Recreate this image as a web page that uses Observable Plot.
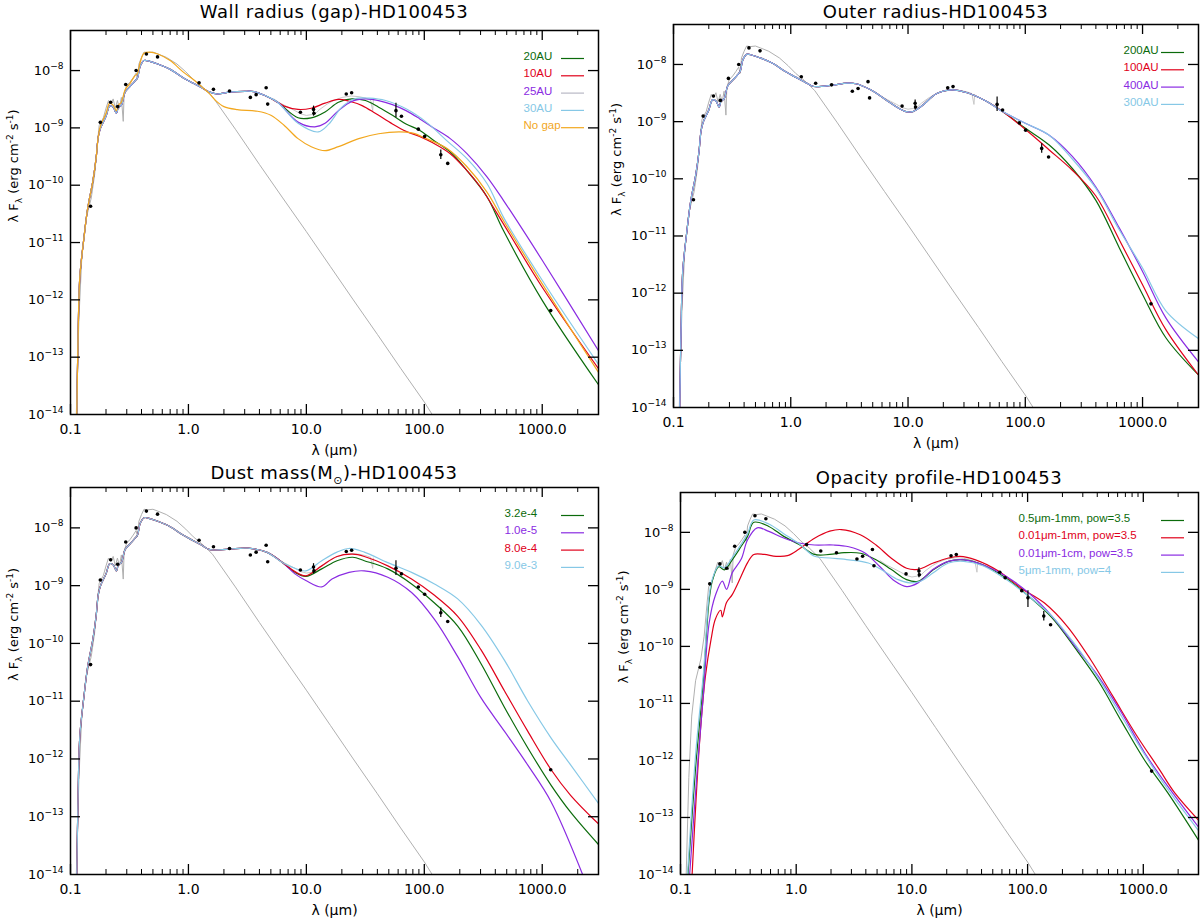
<!DOCTYPE html>
<html>
<head>
<meta charset="utf-8">
<script src="https://cdn.jsdelivr.net/npm/d3@7"></script>
<script src="https://cdn.jsdelivr.net/npm/@observablehq/plot@0.6"></script>
<style>
  body { margin: 0; background: #fff; font-family: "DejaVu Sans", sans-serif; }
  #page { position: relative; width: 1200px; height: 919px; overflow: hidden; }
  .cell { position: absolute; width: 600px; height: 460px; }
  .title { position: absolute; font-size: 18px; letter-spacing: 0.5px; line-height: 22px; white-space: nowrap; transform: translateX(-50%); color: #000; }
  .title sub { font-size: 11px; line-height: 0; }
</style>
</head>
<body>
<div id="page"></div>
<script>
// SED of HD100453, four model grids. values: [lambda (um), lambda F_lambda]

const GRAY = "#b0b0b0", GREEN = "#0b6b0b", RED = "#e0001a", PURPLE = "#8a2be2", LBLUE = "#86c8e6", ORANGE = "#f2a71e";

// photometry (black dots) and error bars [lambda, low, high]
const photometry = [[0.148,4.3e-11],[0.179,1.25e-9],[0.219,2.8e-9],[0.251,2.35e-9],[0.294,5.7e-9],[0.36,1.0e-8],[0.44,1.95e-8],[0.547,1.73e-8],[1.23,6.1e-9],[1.63,4.7e-9],[2.23,4.4e-9],[3.35,3.4e-9],[3.75,3.8e-9],[4.56,5.0e-9],[4.7,2.6e-9],[8.9,1.87e-9],[11.5,2.1e-9],[11.6,1.8e-9],[21.8,3.9e-9],[24.2,4.1e-9],[57.5,2.0e-9],[64,1.6e-9],[89,9.5e-10],[100.7,7.1e-10],[138,3.4e-10],[158,2.4e-10],[1180,6.5e-13]];
const errBars = [[11.5,1.6e-9,2.4e-9],[57.5,1.5e-9,2.7e-9],[138,2.8e-10,4.1e-10]];
const errBarsOpacity = [[11.5,1.6e-9,2.4e-9],[100.7,4.8e-10,9.5e-10],[138,2.8e-10,4.1e-10]];

// stellar photosphere (gray) and IRS spectrum (light gray)
const photosphere = [[0.112,1e-14],[0.118,5e-13],[0.125,6e-12],[0.135,2.5e-11],[0.15,6e-11],[0.16,1.5e-10],[0.17,6e-10],[0.175,1.1e-9],[0.19,1.5e-9],[0.2,2.2e-9],[0.21,3.0e-9],[0.22,2.6e-9],[0.23,3.2e-9],[0.24,2.2e-9],[0.25,3.0e-9],[0.26,2.2e-9],[0.27,3.4e-9],[0.28,1.3e-9],[0.285,4.0e-9],[0.3,5.5e-9],[0.32,6.3e-9],[0.34,7.5e-9],[0.36,9e-9],[0.37,7e-9],[0.38,1.3e-8],[0.4,1.7e-8],[0.42,2.1e-8],[0.45,2.05e-8],[0.5,2.1e-8],[0.55,1.95e-8],[0.65,1.7e-8],[0.8,1.3e-8],[0.95,9.5e-9],[1.1,7e-9],[1.3,5.3e-9],[1.6,3.5e-9],[2.5,9.5e-10],[4,2.3e-10],[6.3,6e-11],[10,1.55e-11],[16,3.8e-12],[25,1.0e-12],[40,2.5e-13],[63,6.4e-14],[100,1.65e-14],[125,8e-15]];
const irsSpectrum = [[5.3,3.2e-9],[6,2.7e-9],[7,2.3e-9],[8,2.0e-9],[9,1.75e-9],[10,1.65e-9],[11,1.7e-9],[12,1.8e-9],[13,2.1e-9],[15,2.6e-9],[17,3.0e-9],[20,3.4e-9],[24,3.6e-9],[28,3.5e-9],[32,3.3e-9],[35,3.1e-9],[36.5,2.0e-9],[37,3.0e-9]];

// model short-wavelength part shared by panels 1-3
const modelUV = [[0.113,1e-14],[0.116,2.3e-13],[0.12,2.5e-12],[0.13,1.2e-11],[0.14,4e-11],[0.155,1.2e-10],[0.165,3e-10],[0.172,7e-10],[0.18,1.0e-9],[0.2,1.6e-9],[0.215,2.4e-9],[0.23,2.3e-9],[0.245,1.8e-9],[0.255,2.3e-9],[0.27,2.5e-9],[0.29,4.2e-9],[0.32,5.3e-9],[0.35,6.5e-9],[0.37,7.5e-9],[0.39,1.2e-8],[0.42,1.5e-8],[0.47,1.45e-8],[0.55,1.3e-8],[0.7,1.05e-8],[0.9,7.5e-9],[1.1,6e-9],[1.3,5e-9]];

// panel 1: wall radius
const wallMid = [[1.52,4.2e-9],[1.75,3.9e-9],[2.3,4.25e-9],[3.0,4.35e-9],[3.6,4.3e-9],[4.4,3.7e-9],[5.7,2.8e-9]];
const wall20 = [[8.5,1.5e-9],[11,1.5e-9],[14.4,1.9e-9],[18.7,2.8e-9],[24.3,3.2e-9],[31.7,3.0e-9],[41,2.3e-9],[53.7,1.66e-9],[70,1.17e-9],[91,9.1e-10],[118,6.2e-10],[166,3.8e-10],[230,1.8e-10],[340,6.3e-11],[470,1.6e-11],[1000,9.8e-13],[3000,3.3e-14]];
const wall10 = [[6.5,2.4e-9],[8.5,2.1e-9],[11,2.2e-9],[14.4,2.7e-9],[18.7,3.15e-9],[22.8,2.95e-9],[29.7,2.45e-9],[38.7,1.78e-9],[53.7,1.17e-9],[70,8.7e-10],[91,7.1e-10],[118,5.5e-10],[166,3.55e-10],[230,1.8e-10],[299,9.3e-11],[470,2.1e-11],[1000,1.66e-12],[3000,6.3e-14]];
const wall25 = [[8.5,1.26e-9],[11.8,1.04e-9],[14.4,1.2e-9],[18.7,2.0e-9],[24.3,2.9e-9],[31.7,3.2e-9],[41,3.0e-9],[53.7,2.55e-9],[70,2.0e-9],[91,1.45e-9],[118,1.02e-9],[166,6.5e-10],[230,3.55e-10],[340,1.4e-10],[470,5.4e-11],[1000,4.9e-12],[3000,1.3e-13]];
const wall30 = [[8.5,1.2e-9],[12.6,8.5e-10],[15.4,1.15e-9],[20,2.3e-9],[26,3.25e-9],[34,3.3e-9],[47,3.0e-9],[70,2.15e-9],[104,1.26e-9],[155,6.0e-10],[230,2.9e-10],[340,1.07e-10],[470,2.75e-11],[1000,2.2e-12],[3000,7.5e-14]];
const noGap = [[0.113,1e-14],[0.116,2.3e-13],[0.12,2.5e-12],[0.13,1.2e-11],[0.14,4e-11],[0.155,1.2e-10],[0.165,3e-10],[0.172,7e-10],[0.18,1.1e-9],[0.2,1.8e-9],[0.215,2.7e-9],[0.23,2.5e-9],[0.245,2.0e-9],[0.255,2.5e-9],[0.27,2.8e-9],[0.29,4.6e-9],[0.32,6e-9],[0.35,8e-9],[0.37,9e-9],[0.39,1.4e-8],[0.42,2.0e-8],[0.47,2.1e-8],[0.55,1.95e-8],[0.7,1.5e-8],[0.9,9.5e-9],[1.1,7e-9],[1.3,5.2e-9],[1.5,4.0e-9],[1.7,3.0e-9],[2.0,2.35e-9],[2.6,2.08e-9],[3.85,1.95e-9],[5.0,1.66e-9],[6.5,1.1e-9],[8.5,6.5e-10],[11,4.7e-10],[14.4,4.0e-10],[18.7,4.7e-10],[27.8,6.5e-10],[41,7.9e-10],[61,8.5e-10],[80,8.1e-10],[104,6.5e-10],[155,4.4e-10],[230,2.1e-10],[340,7.6e-11],[470,2.4e-11],[1000,1.9e-12],[3000,5.4e-14]];

// panel 2: outer radius
const outerMid = [[1.52,4.2e-9],[1.65,4.1e-9],[2.2,4.3e-9],[3.04,4.7e-9],[3.6,4.6e-9],[4.8,3.6e-9],[6.5,2.4e-9],[8,1.8e-9],[9.6,1.5e-9],[11,1.5e-9],[13,1.85e-9],[17.6,3.1e-9],[23.8,3.6e-9],[32,3.2e-9],[47,2.25e-9],[64,1.5e-9]];
const outer200 = [[101,7.6e-10],[160,3.9e-10],[253,1.5e-10],[400,4.2e-11],[631,6.3e-12],[1000,9.5e-13],[1580,1.66e-13],[3000,3.7e-14]];
const outer100 = [[101,7.2e-10],[160,3.2e-10],[253,1.4e-10],[400,5.0e-11],[631,8.7e-12],[1000,1.4e-12],[1580,2.3e-13],[3000,3.7e-14]];
const outer400 = [[101,9.3e-10],[160,5.8e-10],[253,2.45e-10],[400,7.2e-11],[631,1.4e-11],[1000,2.4e-12],[1580,3.7e-13],[3000,6.3e-14]];
const outer300 = [[101,9.3e-10],[160,5.8e-10],[253,2.2e-10],[400,6.8e-11],[631,1.3e-11],[1000,2.75e-12],[1580,4.9e-13],[3000,1.6e-13]];

// panel 3: dust mass
const massMid = [[1.52,4.2e-9],[2.2,4.3e-9],[3.2,4.45e-9],[4.6,3.8e-9],[6.3,2.5e-9]];
const mass32e4 = [[8,1.7e-9],[9.9,1.45e-9],[13.5,1.95e-9],[18.2,2.7e-9],[24.7,3.1e-9],[31,2.7e-9],[49,1.95e-9],[78,1.07e-9],[122,5.0e-10],[192,2.0e-10],[302,4.5e-11],[479,7.8e-12],[755,1.55e-12],[1190,3.5e-13],[1740,1.2e-13],[3000,3.3e-14]];
const mass10e5 = [[8,1.6e-9],[9.9,1.23e-9],[13.5,9.5e-10],[16.5,1.3e-9],[23,1.7e-9],[31,1.8e-9],[49,1.4e-9],[78,7.6e-10],[122,2.6e-10],[192,5.9e-11],[302,1.15e-11],[479,3.0e-12],[755,7.8e-13],[1190,1.8e-13],[2200,1e-14]];
const mass80e4 = [[8,1.75e-9],[9.9,1.48e-9],[13.5,2.2e-9],[18.2,3.2e-9],[24.7,3.5e-9],[31,3.2e-9],[49,2.2e-9],[78,1.3e-9],[122,6.8e-10],[192,2.95e-10],[302,7.8e-11],[479,1.5e-11],[755,3.0e-12],[1190,6.5e-13],[1740,2.35e-13],[3000,7.5e-14]];
const mass90e3 = [[8,2.0e-9],[9.9,1.8e-9],[13.5,2.7e-9],[18.2,3.8e-9],[23,4.4e-9],[31,3.8e-9],[49,2.5e-9],[78,1.7e-9],[122,1.07e-9],[192,5.9e-10],[302,2.1e-10],[479,5.1e-11],[755,1.0e-11],[1190,2.3e-12],[1740,7.9e-13],[3000,1.7e-13]];

// panel 4: opacity profile
const opac05 = [[0.116,1e-14],[0.136,9e-13],[0.158,2.7e-11],[0.177,6.6e-10],[0.19,1.5e-9],[0.214,2.5e-9],[0.24,2.2e-9],[0.28,3.3e-9],[0.335,5.7e-9],[0.38,8.5e-9],[0.43,1.5e-8],[0.58,1.27e-8],[0.78,8.5e-9],[1.06,6.1e-9],[1.44,4.1e-9],[1.95,4.1e-9],[2.6,4.4e-9],[3.6,4.3e-9],[4.9,3.3e-9],[6.6,2.25e-9],[9,1.48e-9],[11.3,1.38e-9],[15.3,2.2e-9],[20.7,3.1e-9],[28,3.3e-9],[41,2.7e-9],[65,1.58e-9],[102,7.6e-10],[162,3.2e-10],[258,9.3e-11],[410,2.45e-11],[650,4.8e-12],[1030,1.0e-12],[1630,2.7e-13],[3000,4.0e-14]];
const opac001mm = [[0.126,1e-14],[0.146,2e-12],[0.164,2.95e-11],[0.184,1.35e-10],[0.2,3.0e-10],[0.223,4.3e-10],[0.23,3.3e-10],[0.25,5.9e-10],[0.28,8.1e-10],[0.325,1.5e-9],[0.38,2.95e-9],[0.43,4.1e-9],[0.53,4.1e-9],[0.67,3.8e-9],[0.84,3.9e-9],[1.06,5.1e-9],[1.44,7.9e-9],[1.95,1.05e-8],[2.45,1.12e-8],[3.58,9.1e-9],[4.9,6.0e-9],[6.6,3.55e-9],[9,2.35e-9],[11.3,2.25e-9],[15.3,2.9e-9],[20.7,3.55e-9],[26,3.8e-9],[35.5,3.3e-9],[56,2.1e-9],[88,1.05e-9],[140,5.75e-10],[220,2.25e-10],[350,5.9e-11],[550,1.3e-11],[870,2.8e-12],[1380,6.9e-13],[1870,2.7e-13],[3000,9.0e-14]];
const opac001cm = [[0.12,1e-14],[0.141,9e-13],[0.158,1.5e-11],[0.177,2.6e-10],[0.2,7.8e-10],[0.23,1.4e-9],[0.25,1.0e-9],[0.28,1.95e-9],[0.335,3.4e-9],[0.38,7.4e-9],[0.46,1.2e-8],[0.58,1.04e-8],[0.78,7.95e-9],[1.06,6.5e-9],[1.44,6.0e-9],[2.1,6.0e-9],[2.85,5.6e-9],[3.9,4.4e-9],[5.3,2.5e-9],[7.1,1.4e-9],[9,1.12e-9],[11.3,1.3e-9],[15.3,2.25e-9],[20.7,3.1e-9],[28,3.3e-9],[41,2.7e-9],[65,1.7e-9],[102,8.7e-10],[162,3.4e-10],[258,1.0e-10],[410,2.95e-11],[650,6.8e-12],[1030,1.35e-12],[1630,3.5e-13],[3000,6.8e-14]];
const opac5um = [[0.115,1e-14],[0.136,1.5e-12],[0.158,3.5e-11],[0.177,8e-10],[0.19,1.6e-9],[0.214,2.6e-9],[0.24,2.4e-9],[0.28,3.6e-9],[0.335,6.2e-9],[0.38,9.5e-9],[0.43,1.65e-8],[0.58,1.4e-8],[0.78,9.5e-9],[1.06,6.3e-9],[1.44,3.8e-9],[1.95,3.55e-9],[2.85,3.3e-9],[4.2,2.9e-9],[5.7,2.1e-9],[7.6,1.48e-9],[9.6,1.3e-9],[12,1.4e-9],[15.3,1.95e-9],[20.7,2.9e-9],[28,3.1e-9],[41,2.6e-9],[65,1.5e-9],[102,7.6e-10],[162,3.4e-10],[258,1.07e-10],[410,2.75e-11],[650,5.9e-12],[1030,1.26e-12],[1630,3.1e-13],[3000,5.9e-14]];

// axes
const xDomain = [0.1, 3000];
const yDomain = [1e-14, 5e-8];
const xMajor = [0.1, 1, 10, 100, 1000];
const xMinor = [0.2,0.3,0.4,0.5,0.6,0.7,0.8,0.9,2,3,4,5,6,7,8,9,20,30,40,50,60,70,80,90,200,300,400,500,600,700,800,900,2000];
const yMajor = [1e-13, 1e-12, 1e-11, 1e-10, 1e-9, 1e-8];
const yTickValues = [1e-14, 1e-13, 1e-12, 1e-11, 1e-10, 1e-9, 1e-8];
const X_LABEL = "λ (μm)";
const Y_LABEL = "λ Fλ (erg cm⁻² s⁻¹)";

const SUP = {"-":"⁻","0":"⁰","1":"¹","2":"²","3":"³","4":"⁴","5":"⁵","6":"⁶","7":"⁷","8":"⁸","9":"⁹"};
const fmtY = d => "10" + String(Math.round(Math.log10(d))).split("").map(c => SUP[c]).join("");
const fmtX = d => d.toFixed(1);

const panels = [
  {left: 0, top: 0, mL: 70, mT: 30, mB: 46, titleY: 1, errs: errBars,
   title: "Wall radius (gap)-HD100453", legDx: 75,
   curves: [
     {data: modelUV.concat(wallMid, wall20), color: GREEN},
     {data: modelUV.concat(wallMid, wall10), color: RED},
     {data: modelUV.concat(wallMid, wall25), color: PURPLE},
     {data: modelUV.concat(wallMid, wall30), color: LBLUE},
     {data: noGap, color: ORANGE}],
   legend: [
     {label: "20AU", color: GREEN}, {label: "10AU", color: RED},
     {label: "25AU", color: PURPLE, line: "#b8b8c4"}, {label: "30AU", color: LBLUE},
     {label: "No gap", color: ORANGE}]},
  {left: 600, top: 0, mL: 73, mT: 24, mB: 53, titleY: 1, errs: errBars,
   title: "Outer radius-HD100453", legDx: 75,
   curves: [
     {data: modelUV.concat(outerMid, outer200), color: GREEN},
     {data: modelUV.concat(outerMid, outer100), color: RED},
     {data: modelUV.concat(outerMid, outer400), color: PURPLE},
     {data: modelUV.concat(outerMid, outer300), color: LBLUE}],
   legend: [
     {label: "200AU", color: GREEN}, {label: "100AU", color: RED},
     {label: "400AU", color: PURPLE}, {label: "300AU", color: LBLUE}]},
  {left: 0, top: 460, mL: 70, mT: 27, mB: 46, titleY: 2, errs: errBars,
   title: "Dust mass(M<sub>⊙</sub>)-HD100453", legDx: 94,
   curves: [
     {data: modelUV.concat(massMid, mass32e4), color: GREEN},
     {data: modelUV.concat(massMid, mass10e5), color: PURPLE},
     {data: modelUV.concat(massMid, mass80e4), color: RED},
     {data: modelUV.concat(massMid, mass90e3), color: LBLUE}],
   legend: [
     {label: "3.2e-4", color: GREEN}, {label: "1.0e-5", color: PURPLE},
     {label: "8.0e-4", color: RED}, {label: "9.0e-3", color: LBLUE}]},
  {left: 600, top: 460, mL: 80, mT: 32, mB: 46, titleY: 7, errs: errBarsOpacity,
   title: "Opacity profile-HD100453", legDx: 180,
   curves: [
     {data: opac05, color: GREEN},
     {data: opac001mm, color: RED},
     {data: opac001cm, color: PURPLE},
     {data: opac5um, color: LBLUE}],
   legend: [
     {label: "0.5μm-1mm, pow=3.5", color: GREEN}, {label: "0.01μm-1mm, pow=3.5", color: RED},
     {label: "0.01μm-1cm, pow=3.5", color: PURPLE}, {label: "5μm-1mm, pow=4", color: LBLUE}]}
];

const px = d => d[0], py = d => d[1];
const NS = "http://www.w3.org/2000/svg";
function tspan(text, attrs) {
  const s = document.createElementNS(NS, "tspan");
  s.textContent = text;
  for (const k in attrs) s.setAttribute(k, attrs[k]);
  return s;
}

function drawPanel(cfg) {
  const W = 600, H = 460, mR = 2;
  const fw = W - cfg.mL - mR, fh = H - cfg.mT - cfg.mB;

  const legendMarks = cfg.legend.flatMap((e, i) => [
    Plot.text([e.label], {text: d => d, frameAnchor: "top-right", textAnchor: "start", lineAnchor: "middle",
      dx: -cfg.legDx, dy: 26 + i * 17.3, fill: e.color, fontSize: 11.5, fontFamily: "Liberation Sans, sans-serif"}),
    Plot.ruleY([yDomain[1]], {dy: 28 + i * 17.3, insetLeft: fw - 37, insetRight: 14, stroke: e.line || e.color, strokeWidth: 1.2})
  ]);

  const chart = Plot.plot({
    width: W, height: H,
    marginLeft: cfg.mL, marginRight: mR, marginTop: cfg.mT, marginBottom: cfg.mB,
    style: {fontFamily: "DejaVu Sans, sans-serif", fontSize: "14px", background: "transparent", overflow: "visible"},
    x: {type: "log", domain: xDomain},
    y: {type: "log", domain: yDomain},
    marks: [
      Plot.line(photosphere, {x: px, y: py, stroke: GRAY, strokeWidth: 1, clip: true}),
      Plot.line(irsSpectrum, {x: px, y: py, stroke: "#c8c8c8", strokeWidth: 1, clip: true}),
      ...cfg.curves.map(c => Plot.line(c.data, {x: px, y: py, stroke: c.color, strokeWidth: 1.2, curve: "catmull-rom", clip: true})),
      Plot.ruleX(cfg.errs, {x: d => d[0], y1: d => d[1], y2: d => d[2], stroke: "black", strokeWidth: 1.2}),
      Plot.dot(photometry, {x: px, y: py, r: 1.8, fill: "black"}),
      // inward IDL-style ticks
      Plot.ruleX(xMajor, {insetTop: fh - 10, stroke: "black", strokeWidth: 1.3}),
      Plot.ruleX(xMajor, {insetBottom: fh - 10, stroke: "black", strokeWidth: 1.3}),
      Plot.ruleX(xMinor, {insetTop: fh - 5, stroke: "black"}),
      Plot.ruleX(xMinor, {insetBottom: fh - 5, stroke: "black"}),
      Plot.ruleY(yMajor, {insetRight: fw - 10, stroke: "black", strokeWidth: 1.3}),
      Plot.ruleY(yMajor, {insetLeft: fw - 10, stroke: "black", strokeWidth: 1.3}),
      Plot.frame({stroke: "black", strokeWidth: 1.5}),
      Plot.axisX({ticks: xMajor, tickSize: 0, tickPadding: 10, tickFormat: fmtX, label: null, fontSize: 14}),
      Plot.axisY({ticks: yTickValues, tickSize: 0, tickPadding: 7, tickFormat: fmtY, label: null, fontSize: 13}),
      Plot.text([X_LABEL], {text: d => d, frameAnchor: "bottom", lineAnchor: "middle", dy: 36, fontSize: 14}),
      Plot.text([Y_LABEL], {text: d => d, frameAnchor: "left", lineAnchor: "middle", rotate: -90, dx: -57, fontSize: 13}),
      ...legendMarks
    ]
  });

  for (const t of chart.querySelectorAll("text")) {
    const s = t.textContent;
    if (s === Y_LABEL) {
      // subscript lambda in the y label
      t.textContent = "";
      t.append(tspan("λ F", {}), tspan("λ", {dy: "4", "font-size": "9"}), tspan(" (erg cm", {dy: "-4"}),
               tspan("-2", {dy: "-5", "font-size": "9"}), tspan(" s", {dy: "5"}),
               tspan("-1", {dy: "-5", "font-size": "9"}), tspan(")", {dy: "5"}));
    } else if (/^10[⁻⁰¹²³⁴⁵⁶⁷⁸⁹]+$/.test(s)) {
      // raised exponent on y tick labels
      const exp = s.slice(2).split("").map(c => Object.keys(SUP).find(k => SUP[k] === c)).join("");
      t.textContent = "";
      t.append(tspan("10", {}), tspan(exp.replace("-", "−"), {dy: "-6", "font-size": "9"}));
    }
  }

  const cell = d3.select("#page").append("div").attr("class", "cell")
    .style("left", cfg.left + "px").style("top", cfg.top + "px");
  cell.append(() => chart);
  cell.append("div").attr("class", "title")
    .style("left", (cfg.mL + fw / 2) + "px").style("top", cfg.titleY + "px")
    .html(cfg.title);
}

panels.forEach(drawPanel);
</script>
</body>
</html>
